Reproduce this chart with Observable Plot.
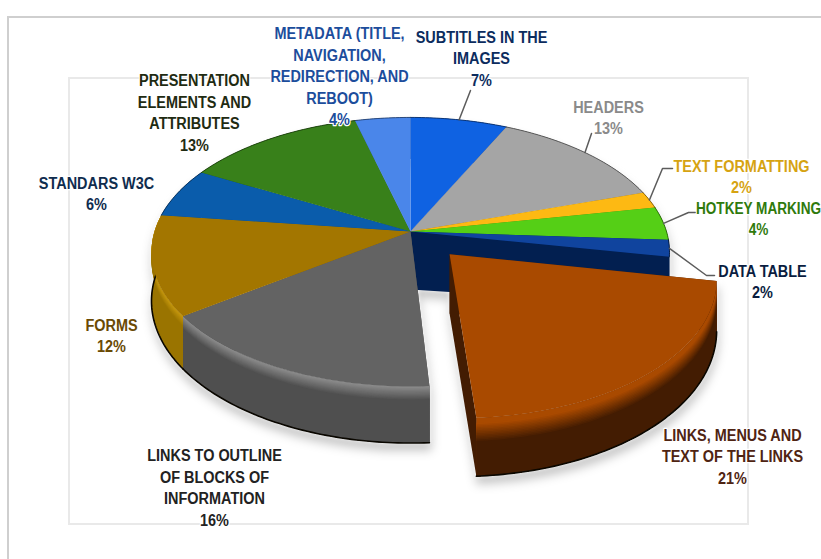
<!DOCTYPE html>
<html>
<head>
<meta charset="utf-8">
<script src="https://cdn.jsdelivr.net/npm/d3@7"></script>
<script src="https://cdn.jsdelivr.net/npm/@observablehq/plot@0.6"></script>
<style>
  html, body { margin: 0; padding: 0; background: #fff; overflow: hidden; }
</style>
</head>
<body>
<div id="chart"></div>
<script>
// Accessibility audit results: share of issues per category, clockwise from twelve o'clock.
const categories = [
  "SUBTITLES IN THE\nIMAGES",
  "HEADERS",
  "TEXT FORMATTING",
  "HOTKEY MARKING",
  "DATA TABLE",
  "LINKS, MENUS AND\nTEXT OF THE LINKS",
  "LINKS TO OUTLINE\nOF BLOCKS OF\nINFORMATION",
  "FORMS",
  "STANDARS W3C",
  "PRESENTATION\nELEMENTS AND\nATTRIBUTES",
  "METADATA (TITLE,\nNAVIGATION,\nREDIRECTION, AND\nREBOOT)"
];
const shares = [7, 13, 2, 4, 2, 21, 16, 12, 6, 13, 4];
const pulledOut = [0, 0, 0, 0, 0, 0.225, 0, 0, 0, 0, 0];

const topColors = ["#0f62e2", "#a5a5a5", "#fdb913", "#55cf16", "#10449e", "#a94a00", "#636363", "#a37600", "#0a5cab", "#38801a", "#4a86ea"];
const wallColors = ["#0a3f90", "#6b6b6b", "#a87a08", "#35860c", "#021f50", "#431c02", "#4c4c4c", "#9a7400", "#063c72", "#245410", "#2f5698"];
const labelColors = ["#0c2c5e", "#8a8a8a", "#d6a312", "#2f7a0c", "#0a1d40", "#4f2412", "#222222", "#6a4a04", "#0f2c4e", "#1f2b12", "#1c4d9c"];

// Label block centres, horizontal squeeze and leader-line bends, in page pixels.
const labelX = [481, 608, 741, 758, 762, 732, 214, 111, 96, 194, 339];
const labelY = [57, 116, 175, 217, 280, 455, 486, 334, 192, 111, 75];
const labelSqueeze = [0.85, 0.85, 0.85, 0.8, 0.85, 0.85, 0.85, 0.85, 0.85, 0.85, 0.85];
const leaderBends = [
  [[470, 90]],
  [[591, 133]],
  [[662, 168], [672, 168]],
  [[688, 212], [695, 212]],
  [[706, 275], [714, 275]],
  null, null, null, null, null, null
];

// Pie model: a unit circle seen in perspective, extruded downward.
const pie = {cx: 410, cy: 231, radiusX: 256, radiusY: 131.4, tilt: 0.152, depth: 48, hubDepth: 58};
const TAU = 2 * Math.PI;

// Rounded edge on the slices facing the viewer: colour ramp just under the rim.
const bevels = new Map([
  [5, {from: "#a94a00", to: "#431c02", start: 4, span: 15}],
  [6, {from: "#8a8a8a", to: "#4f4f4f", start: 0, span: 11}],
  [7, {from: "#c4970e", to: "#9a7400", start: 0, span: 9}]
]);

function project(u, v, drop = 0) {
  const d = 1 + pie.tilt * v;
  return {x: pie.cx + pie.radiusX * u / d, y: pie.cy + (drop - pie.radiusY * v) / d};
}

const total = d3.sum(shares);
const cumulative = d3.cumsum(shares);
const slices = categories.map((name, i) => {
  const a0 = TAU * (cumulative[i] - shares[i]) / total;
  const a1 = TAU * cumulative[i] / total;
  const mid = (a0 + a1) / 2;
  const ou = pulledOut[i] * Math.sin(mid);
  const ov = pulledOut[i] * Math.cos(mid);
  return {i, name, a0, a1, mid, ou, ov};
});

const rimPoint = (s, a, drop = 0) => project(s.ou + Math.sin(a), s.ov + Math.cos(a), drop);
const hub = (s, drop = 0) => project(s.ou, s.ov, drop);
const tag = (pts, id, color) => pts.map((p) => ({...p, id, color}));
function arc(s, drop = 0) {
  const n = Math.max(2, Math.ceil((s.a1 - s.a0) / (TAU / 360)));
  return d3.range(n + 1).map((k) => rimPoint(s, s.a0 + (s.a1 - s.a0) * k / n, drop));
}

// Outer wall, radial cut faces and bevel ramp of every slice, back to front.
// Ramp bands each reach down to the floor so no seams show between them.
const wallOrder = [0, 1, 2, 3, 9, 10, 8, 7, 4, 6, 5];
const walls = wallOrder.flatMap((i) => {
  const s = slices[i];
  const cut = (a, key) => tag(
    [hub(s), rimPoint(s, a), rimPoint(s, a, pie.depth), hub(s, pie.hubDepth)],
    `${i}${key}`, wallColors[i]
  );
  const band = (d0, key, color) => tag([...arc(s, d0), ...arc(s, pie.depth).reverse()], `${i}${key}`, color);
  const parts = [...cut(s.a0, "s"), ...cut(s.a1, "e"), ...band(0, "o", wallColors[i])];
  const bevel = bevels.get(i);
  if (bevel) {
    const ramp = d3.interpolateRgb(bevel.from, bevel.to);
    parts.push(...band(0, "b", bevel.from));
    const steps = 12;
    d3.range(steps + 1).forEach((k) => {
      parts.push(...band(bevel.start + bevel.span * k / steps, `r${k}`, ramp(k / steps)));
    });
  }
  return parts;
});

const tops = slices.flatMap((s) => tag([hub(s), ...arc(s)], s.i, topColors[s.i]));
const wallFloors = [4, 5, 6, 7].flatMap((i) => tag(arc(slices[i], pie.depth), i, "#0a0700"));
const backRim = [0, 1, 2, 3, 4, 8, 9, 10].flatMap((i) =>
  tag(arc(slices[i]), i, d3.color(wallColors[i]).darker(0.8).formatHex())
);

// Label text and its leader lines.
const labels = slices.map((s, i) => ({
  x: labelX[i], y: labelY[i], text: `${s.name}\n${shares[i]}%`, color: labelColors[i]
}));
const leaders = slices.flatMap((s, i) => {
  if (!leaderBends[i]) return [];
  return [rimPoint(s, s.mid), ...leaderBends[i].map(([x, y]) => ({x, y}))].map((p) => ({...p, id: i}));
});

// Chart-area outlines; the outer one runs off the page on two sides.
const outlines = [
  {x1: 8, y1: 17, x2: 840, y2: 590, stroke: "#cfcfcf", strokeWidth: 2},
  {x1: 69, y1: 78, x2: 748, y2: 524, stroke: "#e9e9e9", strokeWidth: 2}
];

const plot = Plot.plot({
  width: 821,
  height: 559,
  margin: 0,
  x: {domain: [0, 821], range: [0, 821], axis: null},
  y: {domain: [0, 559], range: [0, 559], axis: null},
  color: {type: "identity"},
  style: {background: "#fff", overflow: "hidden"},
  marks: [
    Plot.rect(outlines, {x1: "x1", y1: "y1", x2: "x2", y2: "y2", stroke: "stroke", strokeWidth: "strokeWidth", fill: "none"}),
    Plot.line(walls, {
      x: "x", y: "y", z: "id", fill: "color", stroke: "none",
      imageFilter: "drop-shadow(0 0 2px #fff) drop-shadow(1px 7px 5px rgba(0,0,0,0.22))"
    }),
    Plot.line(wallFloors, {x: "x", y: "y", z: "id", stroke: "#0a0700", strokeWidth: 1.6}),
    Plot.line(tops, {x: "x", y: "y", z: "id", fill: "color", stroke: "none"}),
    Plot.line(backRim, {x: "x", y: "y", z: "id", stroke: "color", strokeWidth: 1, strokeOpacity: 0.9}),
    Plot.line(leaders, {x: "x", y: "y", z: "id", stroke: "#5c5c5c", strokeWidth: 1.5}),
    Plot.text(labels, {
      x: "x", y: "y", text: "text", fill: "color",
      fontFamily: "'Liberation Sans', sans-serif",
      fontWeight: 700, fontSize: 17, lineHeight: 1.265, textAnchor: "middle",
      stroke: "#fff", strokeWidth: 2.5,
      className: "pie-label"
    })
  ]
});

// The labels are set in a condensed cut of the face: squeeze each block horizontally.
plot.querySelectorAll(".pie-label text").forEach((node, i) => {
  const placed = node.getAttribute("transform") || "";
  node.setAttribute("transform", `${placed} scale(${labelSqueeze[i]} 1)`);
});

document.getElementById("chart").appendChild(plot);
</script>
</body>
</html>
